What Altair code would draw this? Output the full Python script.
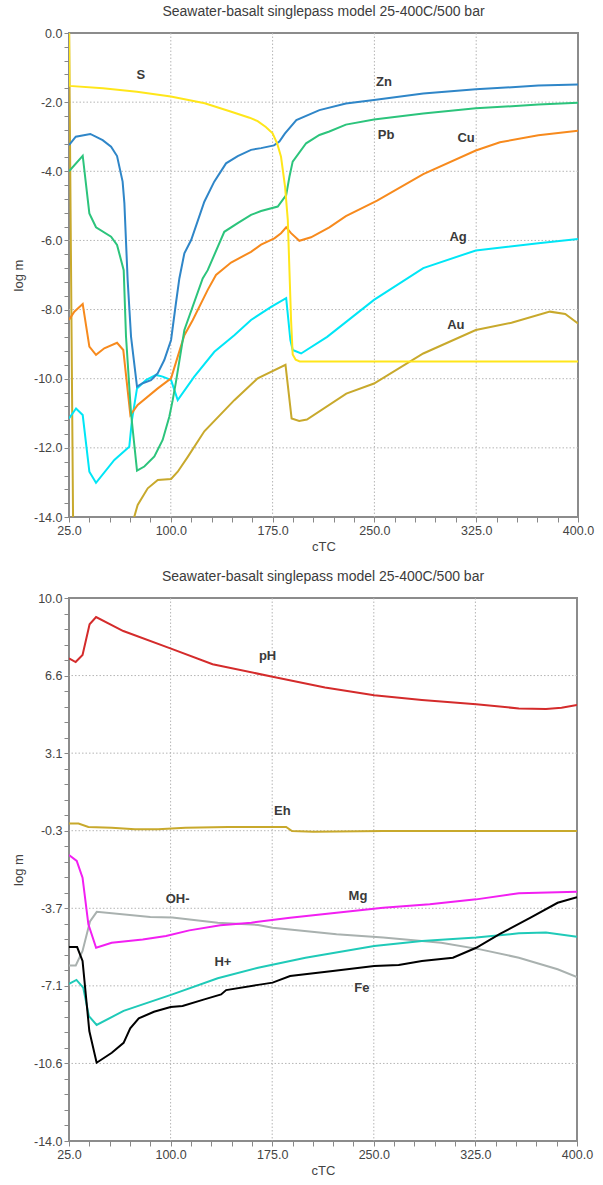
import altair as alt
import pandas as pd

# ---------------- top chart data ----------------
S_T = [25, 25.3, 50, 75, 100, 125, 144, 158, 164, 170, 175, 178.4, 181.2, 184.2, 186.2, 187.4, 188.6, 189.8, 192, 195, 250, 325, 400]
S_V = [0.5, -1.53, -1.6, -1.7, -1.84, -2.03, -2.27, -2.45, -2.55, -2.72, -2.9, -3.2, -3.58, -4.45, -5.41, -6.86, -8.3, -9.3, -9.45, -9.5, -9.5, -9.5, -9.5]

ZN_T = [25, 30, 40.7, 49.8, 56, 60.4, 64.5, 65.8, 68.2, 70.7, 75.1, 79.3, 85.4, 90.4, 95.2, 100.2, 103.8, 106.3, 110, 115, 124.7, 132, 140.7, 149.3, 159.1, 166.5, 176, 180, 184, 192.5, 209.5, 229, 249.7, 286, 324.7, 370.8, 400]
ZN_V = [-3.24, -3.0, -2.92, -3.1, -3.29, -3.56, -4.3, -4.92, -7.14, -8.78, -10.23, -10.13, -10.04, -9.84, -9.46, -8.88, -7.81, -7.1, -6.37, -5.99, -4.88, -4.3, -3.77, -3.56, -3.38, -3.33, -3.25, -3.14, -2.91, -2.52, -2.23, -2.04, -1.94, -1.75, -1.63, -1.52, -1.49]

PB_T = [25, 35.1, 40, 44.9, 56, 60.4, 65.3, 67, 70.7, 75.1, 80.5, 87.9, 94, 98.9, 101.4, 103.8, 110, 123.5, 127.2, 139.4, 149.3, 159.1, 166.5, 178.8, 185, 187.4, 189.8, 199.7, 209.5, 216.8, 229, 249.7, 286, 324.7, 370.8, 400]
PB_V = [-4.0, -3.55, -5.22, -5.62, -5.89, -6.13, -6.86, -8.78, -11.0, -12.66, -12.54, -12.25, -11.77, -11.1, -10.62, -10.09, -8.59, -7.1, -6.86, -5.75, -5.5, -5.26, -5.15, -5.02, -4.69, -4.16, -3.72, -3.19, -2.95, -2.85, -2.65, -2.5, -2.33, -2.18, -2.07, -2.02]

CU_T = [25, 28.9, 35.1, 40, 44.9, 51, 60.4, 65, 70.2, 75.6, 90.4, 100.2, 105.1, 110, 116.2, 127.2, 133.3, 144.4, 159.1, 166.5, 176.3, 181.2, 185, 188.6, 194.7, 203.3, 216.8, 229, 252, 286, 324.7, 342.5, 370.8, 400]
CU_V = [-8.3, -8.06, -7.84, -9.07, -9.31, -9.12, -8.96, -9.17, -11.05, -10.76, -10.28, -9.99, -9.36, -8.74, -8.3, -7.43, -7.0, -6.64, -6.33, -6.12, -5.94, -5.79, -5.62, -5.79, -6.01, -5.91, -5.62, -5.3, -4.85, -4.08, -3.4, -3.16, -2.96, -2.83]

AG_T = [25, 30.2, 35.1, 40, 44.9, 58.4, 69.4, 71.4, 75.1, 81.7, 89.1, 94, 100.2, 105.1, 117.3, 132.1, 146.8, 159.1, 173.9, 185, 188.1, 189.8, 196, 215.2, 249.7, 286, 324.7, 370.8, 400]
AG_V = [-11.15, -10.86, -11.05, -12.69, -13.01, -12.35, -11.97, -11.19, -10.28, -10.04, -9.89, -9.94, -10.04, -10.62, -9.94, -9.22, -8.74, -8.3, -7.92, -7.67, -8.88, -9.17, -9.27, -8.79, -7.72, -6.8, -6.29, -6.08, -5.96]

AU_T = [25, 28.3, 72, 73.1, 75.6, 83, 90.4, 100.2, 105.1, 112.5, 124.7, 146.8, 164, 184.5, 189, 194.6, 200.3, 229.3, 249.7, 286, 324.7, 351, 379.3, 390.6, 400]
AU_V = [0.5, -15.5, -14.3, -13.99, -13.65, -13.17, -12.93, -12.9, -12.69, -12.26, -11.52, -10.62, -9.99, -9.6, -11.15, -11.22, -11.18, -10.43, -10.14, -9.27, -8.59, -8.38, -8.06, -8.13, -8.4]

TOP_NAMES = ["Au", "Ag", "Cu", "Pb", "Zn", "S"]
TOP_COLORS = ["#c8a92c", "#00e6f6", "#f78a1d", "#2cc47c", "#2f86c8", "#ffe61a"]
TOP_SERIES = [(AU_T, AU_V), (AG_T, AG_V), (CU_T, CU_V), (PB_T, PB_V), (ZN_T, ZN_V), (S_T, S_V)]

TOP_LABELS = ["S", "Zn", "Pb", "Cu", "Ag", "Au"]
TOP_LABEL_T = [78, 257, 258.6, 317.6, 311.7, 310]
TOP_LABEL_V = [-1.21, -1.42, -2.95, -3.04, -5.9, -8.45]

# ---------------- bottom chart data ----------------
PH_T = [25, 29.9, 35, 40.2, 45, 65.1, 100.3, 131, 175.3, 214, 250.3, 285.5, 325.6, 357.1, 377.1, 388.6, 400]
PH_V = [7.33, 7.17, 7.48, 8.84, 9.16, 8.54, 7.76, 7.07, 6.52, 6.04, 5.7, 5.49, 5.3, 5.12, 5.09, 5.15, 5.27]

EH_T = [25, 32, 39.3, 56.5, 73.7, 90.8, 110.9, 142.4, 185.3, 189.6, 205.4, 256.9, 400]
EH_V = [0.03, 0.03, -0.12, -0.15, -0.22, -0.22, -0.15, -0.12, -0.12, -0.3, -0.33, -0.3, -0.3]

MG_T = [25, 30.7, 35, 39.3, 45, 56.5, 79.4, 96.6, 113.8, 136.7, 159.6, 188.2, 222.5, 256.9, 291.3, 325.6, 357.1, 400]
MG_V = [-1.36, -1.62, -2.36, -4.42, -5.46, -5.24, -5.09, -4.94, -4.69, -4.46, -4.35, -4.13, -3.91, -3.69, -3.54, -3.32, -3.05, -2.98]

OH_T = [25, 30, 35, 40.5, 45.5, 85, 101.3, 134.8, 164.6, 175.3, 222.5, 256.9, 299.8, 328.5, 357.1, 385.7, 400]
OH_V = [-6.24, -6.24, -5.6, -4.3, -3.87, -4.1, -4.12, -4.35, -4.45, -4.57, -4.86, -5.01, -5.24, -5.53, -5.9, -6.41, -6.75]

HP_T = [25, 30.5, 35.5, 39.7, 45.4, 65.3, 101.3, 134.8, 164.6, 199.6, 250.3, 285.5, 325.6, 357.1, 377.1, 400]
HP_V = [-7.05, -6.88, -7.22, -8.48, -8.87, -8.25, -7.52, -6.81, -6.34, -5.9, -5.38, -5.16, -5.01, -4.82, -4.79, -4.97]

FE_T = [25, 31, 35, 40, 45.4, 56.6, 65.3, 70.2, 76.5, 87.7, 100, 108.8, 124.9, 137.3, 141, 164.6, 175.3, 188.2, 219.7, 250.3, 268.4, 285.5, 308.4, 325.6, 342.8, 365.7, 385.7, 400]
FE_V = [-5.43, -5.43, -6.04, -9.14, -10.54, -10.1, -9.66, -9.02, -8.58, -8.29, -8.08, -8.03, -7.74, -7.52, -7.33, -7.1, -7.0, -6.71, -6.49, -6.27, -6.22, -6.04, -5.9, -5.46, -4.86, -4.13, -3.47, -3.22]

BOT_NAMES = ["pH", "Eh", "OH-", "Mg", "H+", "Fe"]
BOT_COLORS = ["#d42b2b", "#c8a92c", "#a9b1af", "#f21ff2", "#1fcab8", "#000000"]
BOT_SERIES = [(PH_T, PH_V), (EH_T, EH_V), (OH_T, OH_V), (MG_T, MG_V), (HP_T, HP_V), (FE_T, FE_V)]

BOT_LABELS = ["pH", "Eh", "Mg", "OH-", "H+", "Fe"]
BOT_LABEL_T = [171.6, 182.5, 238.3, 105.2, 138.6, 241.2]
BOT_LABEL_V = [7.44, 0.59, -3.17, -3.30, -6.07, -7.22]

# ---------------- ticks ----------------
X_MAJOR = [25, 100, 175, 250, 325, 400]
X_MINOR = list(range(25, 401, 15))
TOP_Y_MAJOR = [0, -2, -4, -6, -8, -10, -12, -14]
TOP_Y_MINOR = [round(-0.4 * i, 2) for i in range(36)]
BOT_Y_MAJOR = [10 - i * 24 / 7 for i in range(8)]
BOT_Y_MINOR = [10 - i * 24 / 35 for i in range(36)]

FONT = "Liberation Sans"
MINUS = "\u2212"


def long_frame(names, series):
    rows = []
    for si, (name, (ts, vs)) in enumerate(zip(names, series)):
        for i, (t, v) in enumerate(zip(ts, vs)):
            rows.append({"series": name, "T": t, "v": v, "idx": i, "layer": si})
    return pd.DataFrame(rows)


def panel(names, colors, series, lab, lab_t, lab_v, y_dom, y_major, y_minor,
          y_label_expr, width, height):
    df = long_frame(names, series)
    xs = alt.Scale(domain=[25, 400], nice=False, zero=False)
    ys = alt.Scale(domain=y_dom, nice=False, zero=False)

    x_axis = alt.Axis(values=X_MINOR, grid=False, domain=False,
                      labelExpr="(datum.value - 25) % 75 == 0 ? format(datum.value, '.1f') : ''",
                      tickSize=5, tickColor="#888", labelFontSize=12.5, labelColor="#444",
                      labelPadding=2, labelFont=FONT, titleFont=FONT, titleFontSize=13,
                      titleFontWeight="normal", titleColor="#444", titlePadding=4,
                      labelOverlap=False, labelFlush=False)
    y_axis = alt.Axis(values=y_minor, grid=False, domain=False,
                      labelExpr=y_label_expr,
                      tickSize=5, tickColor="#888", labelFontSize=12.5, labelColor="#444",
                      labelPadding=2, labelFont=FONT, titleFont=FONT, titleFontSize=13,
                      titleFontWeight="normal", titleColor="#444", titlePadding=8,
                      labelOverlap=False, labelFlush=False)

    gx = alt.Chart(pd.DataFrame({"g": X_MAJOR[1:-1]})).mark_rule(
        color="#b5b5b5", strokeDash=[1.5, 2], strokeWidth=1
    ).encode(x=alt.X("g:Q", scale=xs, axis=x_axis, title="cTC"))
    gy = alt.Chart(pd.DataFrame({"g": y_major[1:-1]})).mark_rule(
        color="#b5b5b5", strokeDash=[1.5, 2], strokeWidth=1
    ).encode(y=alt.Y("g:Q", scale=ys, axis=y_axis, title="log m"))

    lines = alt.Chart(df).mark_line(strokeWidth=2, clip=True).encode(
        x=alt.X("T:Q", scale=xs, title="cTC", axis=x_axis),
        y=alt.Y("v:Q", scale=ys, title="log m", axis=y_axis),
        color=alt.Color("series:N", scale=alt.Scale(domain=names, range=colors), legend=None),
        detail="layer:O",
        order="idx:Q",
    )

    labels = alt.Chart(pd.DataFrame({"name": lab, "T": lab_t, "v": lab_v})).mark_text(
        font=FONT, fontSize=13, fontWeight="bold", color="#3a3a3a"
    ).encode(x=alt.X("T:Q", scale=xs, axis=x_axis, title="cTC"),
             y=alt.Y("v:Q", scale=ys, axis=y_axis, title="log m"),
             text="name:N")

    return alt.layer(gx, gy, lines, labels).properties(
        width=width, height=height,
        title=alt.TitleParams("Seawater-basalt singlepass model 25-400C/500 bar",
                              font=FONT, fontSize=14, fontWeight="normal",
                              color="#3c3c3c", offset=8),
    )


top_expr = ("abs(datum.value / 2 - round(datum.value / 2)) < 0.01 ? "
            "replace(format(datum.value, '.1f'), '" + MINUS + "', '-') : ''")
bot_expr = ("abs((10 - datum.value) / (24 / 7) - round((10 - datum.value) / (24 / 7))) < 0.01 ? "
            "replace(format(datum.value, '.1f'), '" + MINUS + "', '-') : ''")

top = panel(TOP_NAMES, TOP_COLORS, TOP_SERIES, TOP_LABELS, TOP_LABEL_T, TOP_LABEL_V,
            [-14, 0], TOP_Y_MAJOR, TOP_Y_MINOR, top_expr, 509, 484)
bottom = panel(BOT_NAMES, BOT_COLORS, BOT_SERIES, BOT_LABELS, BOT_LABEL_T, BOT_LABEL_V,
               [-14, 10], BOT_Y_MAJOR, BOT_Y_MINOR, bot_expr, 508, 543)

chart = alt.vconcat(top, bottom, spacing=14).resolve_scale(
    color="independent", x="independent", y="independent"
).configure(
    background="white", padding={"left": 11, "top": 4, "right": 5, "bottom": 5}
).configure_view(
    stroke="#8c8c8c", strokeWidth=2
)

chart.save("out.html", embed_options={"renderer": "svg", "actions": False})
